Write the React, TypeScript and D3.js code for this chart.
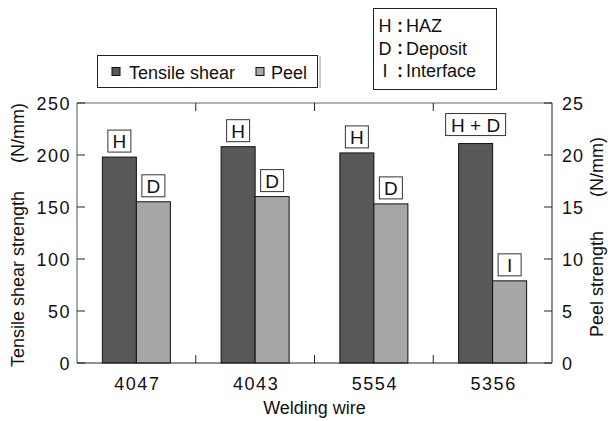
import * as d3 from "d3";

const categories = ["4047", "4043", "5554", "5356"];
const tensileShear = [198, 208, 202, 211];
const peel = [15.5, 16.0, 15.3, 7.9];
const tensileLabels = ["H", "H", "H", "H + D"];
const peelLabels = ["D", "D", "D", "I"];
const leftTicks = [0, 50, 100, 150, 200, 250];
const rightTicks = [0, 5, 10, 15, 20, 25];
const failureKey = [
  ["H", "HAZ"],
  ["D", "Deposit"],
  ["I", "Interface"],
];

const W = 608;
const H = 421;
const m = { left: 77, right: 56, top: 103, bottom: 58 };
const font = "'Liberation Sans', Arial, sans-serif";
const dark = "#585858";
const light = "#a6a6a6";
const axisColor = "#222";

export default function App() {
  const x = d3
    .scaleBand()
    .domain(categories)
    .range([m.left, W - m.right])
    .padding(0);
  const inner = d3
    .scaleBand()
    .domain(["t", "p"])
    .range([0, x.bandwidth()])
    .paddingInner(0)
    .paddingOuter(0.746);
  const yL = d3.scaleLinear().domain([0, 250]).range([H - m.bottom, m.top]);
  const yR = d3.scaleLinear().domain([0, 25]).range([H - m.bottom, m.top]);

  const x0 = m.left;
  const x1 = W - m.right;
  const yTop = m.top;
  const yBot = H - m.bottom;
  const boundaries = categories.slice(1).map((c) => x(c)!);

  const bars = categories.flatMap((c, i) => [
    { c, key: "t", v: tensileShear[i], y: yL(tensileShear[i]), fill: dark, label: tensileLabels[i] },
    { c, key: "p", v: peel[i], y: yR(peel[i]), fill: light, label: peelLabels[i] },
  ]);

  return (
    <svg width={W} height={H} style={{ position: "absolute", left: 0, top: 0 }} fontFamily={font}>
      <rect width={W} height={H} fill="#fff" />

      {/* bars with failure-mode tags */}
      {bars.map((b) => {
        const bx = x(b.c)! + inner(b.key)!;
        const bw = inner.bandwidth();
        const lw = b.label.length > 1 ? 60 : 23;
        const gap = b.label.length > 1 ? 8 : 5;
        const cx = bx + bw / 2;
        return (
          <g key={b.c + b.key}>
            <rect x={bx} y={b.y} width={bw} height={yBot - b.y} fill={b.fill} stroke="#111" strokeWidth={1} />
            <rect x={cx - lw / 2} y={b.y - gap - 22} width={lw} height={22} fill="#fff" stroke="#333" strokeWidth={1} />
            <text x={cx} y={b.y - gap - 4} textAnchor="middle" fontSize={19} fill="#111">
              {b.label}
            </text>
          </g>
        );
      })}

      {/* frame */}
      <line x1={x0} x2={x1} y1={yTop} y2={yTop} stroke="#666" />
      <line x1={x0} x2={x1} y1={yBot} y2={yBot} stroke={axisColor} />
      <line x1={x0} x2={x0} y1={yTop} y2={yBot} stroke="#555" />
      <line x1={x1} x2={x1} y1={yTop} y2={yBot} stroke={axisColor} />

      {boundaries.map((bx) => (
        <g key={bx}>
          <line x1={bx} x2={bx} y1={yTop} y2={yTop + 8} stroke={axisColor} />
          <line x1={bx} x2={bx} y1={yBot} y2={yBot - 8} stroke={axisColor} />
        </g>
      ))}

      {leftTicks.map((t) => (
        <g key={"l" + t}>
          <line x1={x0} x2={x0 + 8} y1={yL(t)} y2={yL(t)} stroke={axisColor} />
          <text x={x0 - 6} y={yL(t) + 6.5} textAnchor="end" fontSize={18} letterSpacing={1.5} fill="#111">
            {t}
          </text>
        </g>
      ))}
      {rightTicks.map((t) => (
        <g key={"r" + t}>
          <line x1={x1} x2={x1 - 8} y1={yR(t)} y2={yR(t)} stroke={axisColor} />
          <text x={x1 + 10} y={yR(t) + 6.5} textAnchor="start" fontSize={18} letterSpacing={1} fill="#111">
            {t}
          </text>
        </g>
      ))}

      {categories.map((c) => (
        <text key={c} x={x(c)! + x.bandwidth() / 2 + 1} y={yBot + 27} textAnchor="middle" fontSize={18} letterSpacing={1.5} fill="#111">
          {c}
        </text>
      ))}

      <text x={(x0 + x1) / 2} y={H - 7} textAnchor="middle" fontSize={18} fill="#111">
        Welding wire
      </text>

      <text transform={`translate(24,${(yTop + yBot) / 2 + 2}) rotate(-90)`} textAnchor="middle" fontSize={18} fill="#111">
        Tensile shear strength
        <tspan dx={28}>(N/mm)</tspan>
      </text>
      <text transform={`translate(603,${(yTop + yBot) / 2 + 4}) rotate(-90)`} textAnchor="middle" fontSize={18} fill="#111">
        Peel strength
        <tspan dx={34}>(N/mm)</tspan>
      </text>

      {/* series legend */}
      <rect x={97.5} y={55.5} width={220} height={32} fill="#fff" stroke="#222" />
      <line x1={320} x2={320} y1={56} y2={88} stroke="#999" />
      <rect x={112} y={67.5} width={8} height={8} fill={dark} stroke="#111" />
      <text x={129} y={78.5} fontSize={18} fill="#111">
        Tensile shear
      </text>
      <rect x={256} y={67.5} width={8} height={8} fill={light} stroke="#111" />
      <text x={271} y={78.5} fontSize={18} fill="#111">
        Peel
      </text>

      {/* failure mode legend */}
      <rect x={373.5} y={8.5} width={123} height={81} fill="#fff" stroke="#222" />
      {failureKey.map(([k, v], i) => (
        <g key={k} fontSize={18} fill="#111">
          <text x={385} y={32 + i * 22.5} textAnchor="middle">
            {k}
          </text>
          <text x={400} y={31.5 + i * 22.5} textAnchor="middle" fontWeight="bold">
            :
          </text>
          <text x={406} y={32 + i * 22.5}>
            {v}
          </text>
        </g>
      ))}
    </svg>
  );
}
